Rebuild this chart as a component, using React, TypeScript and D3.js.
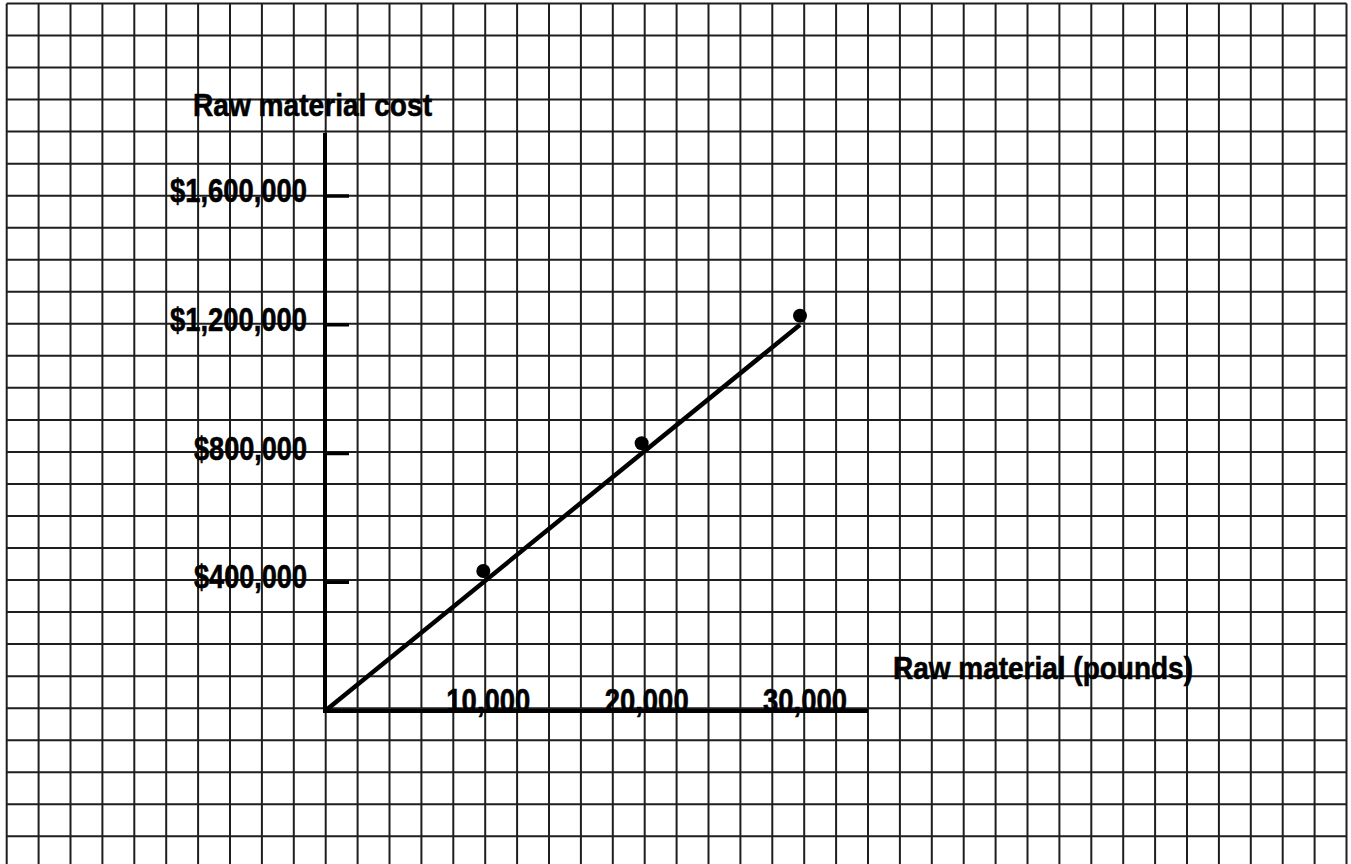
import * as d3 from 'd3';

// data
const lineX = [0, 30000];
const lineY = [0, 1200000];
const pointX = [10000, 20000, 30000];
const pointY = [435000, 832000, 1228000];
const yTicks = [400000, 800000, 1200000, 1600000];
const yTickLabels = ['$400,000', '$800,000', '$1,200,000', '$1,600,000'];
const xTicks = [10000, 20000, 30000];
const xTickLabels = ['10,000', '20,000', '30,000'];
const yTitle = 'Raw material cost';
const xTitle = 'Raw material (pounds)';

const W = 1351;
const H = 864;
const font = "'Liberation Sans Narrow', 'Arial Narrow', 'Liberation Sans', Arial, sans-serif";

export default function App() {
  // chart area
  const x = d3.scaleLinear().domain([0, 30000]).range([325, 800]);
  const y = d3.scaleLinear().domain([0, 1600000]).range([711, 196]);

  // graph paper background
  const vLines = d3.range(43).map((k) => 6.7 + k * 31.9);
  const hLines = d3.range(27).map((k) => 3.5 + k * 32.03);

  const line = d3
    .line<number>()
    .x((_, i) => x(lineX[i]))
    .y((d) => y(d));

  // rough label widths (the original font is a condensed bold)
  const yLabelWidth = (s: string) => (s.length > 8 ? 137 : 113);

  return (
    <svg
      width={W}
      height={H}
      style={{ position: 'absolute', left: 0, top: 0, background: '#fff' }}
    >
      <rect width={W} height={H} fill='#fff' />
      <g stroke='#1e1e1e' strokeWidth={2}>
        {vLines.map((vx, i) => (
          <line key={'v' + i} x1={vx} x2={vx} y1={hLines[0]} y2={H} />
        ))}
        {hLines.map((hy, i) => (
          <line key={'h' + i} x1={vLines[0]} x2={vLines[vLines.length - 1]} y1={hy} y2={hy} />
        ))}
      </g>

      <g fontFamily={font} fontWeight='bold' fill='#000' stroke='#000' strokeWidth={0.6}>
        <text x={193} y={116} fontSize={31} textLength={239} lengthAdjust='spacingAndGlyphs'>
          {yTitle}
        </text>
        <text x={893} y={679} fontSize={31} textLength={300} lengthAdjust='spacingAndGlyphs'>
          {xTitle}
        </text>
        {yTicks.map((t, i) => (
          <text
            key={'yl' + i}
            x={307}
            y={y(t) + 6}
            fontSize={33}
            textAnchor='end'
            textLength={yLabelWidth(yTickLabels[i])}
            lengthAdjust='spacingAndGlyphs'
          >
            {yTickLabels[i]}
          </text>
        ))}
        {xTicks.map((t, i) => (
          <text
            key={'xl' + i}
            x={x(t) + 5}
            y={712}
            fontSize={33}
            textAnchor='middle'
            textLength={84}
            lengthAdjust='spacingAndGlyphs'
          >
            {xTickLabels[i]}
          </text>
        ))}
      </g>

      {/* axes */}
      <g stroke='#000' strokeWidth={4}>
        <line x1={x(0)} x2={x(0)} y1={133} y2={713} />
        <line x1={x(0) - 2} x2={868} y1={y(0)} y2={y(0)} />
        {yTicks.map((t, i) => (
          <line key={'yt' + i} x1={x(0)} x2={349} y1={y(t)} y2={y(t)} strokeWidth={3.5} />
        ))}
      </g>

      <path d={line(lineY) ?? ''} fill='none' stroke='#000' strokeWidth={4.5} />

      {pointX.map((px, i) => (
        <circle key={'p' + i} cx={x(px)} cy={y(pointY[i])} r={7} fill='#000' />
      ))}
    </svg>
  );
}
